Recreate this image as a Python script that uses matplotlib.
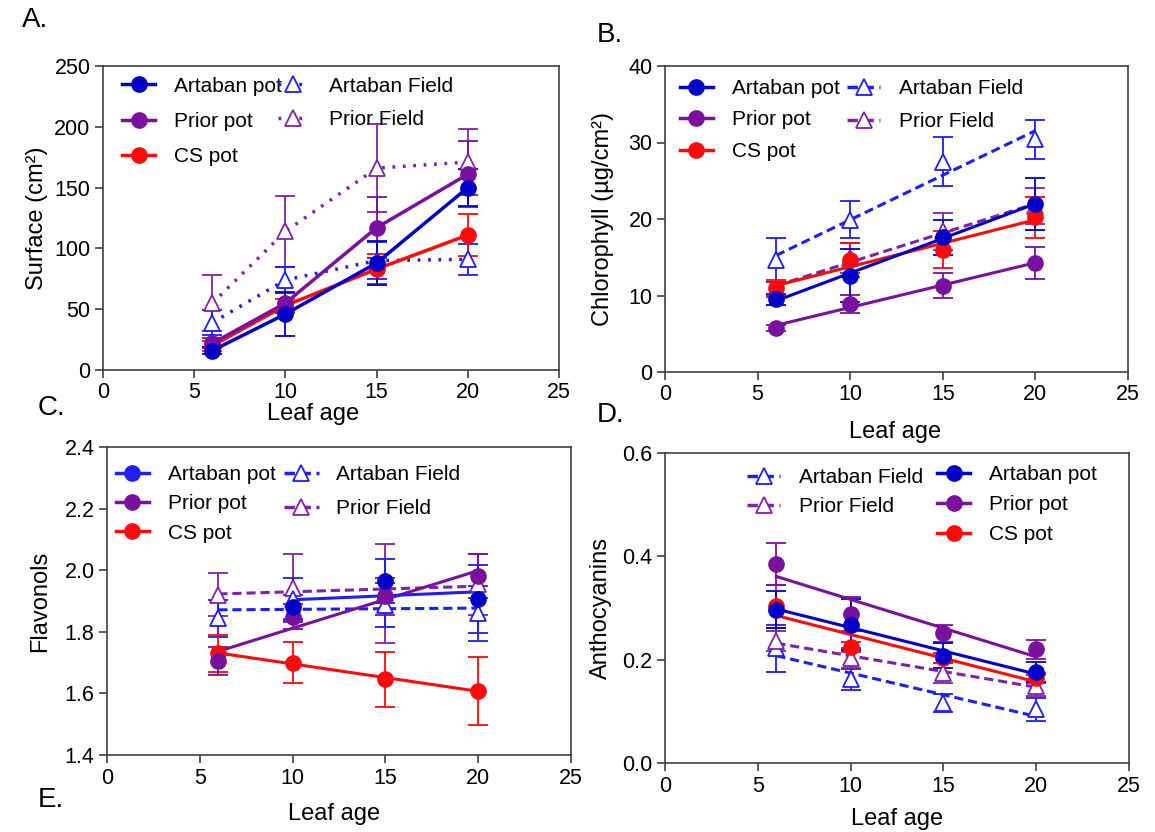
import numpy as np
import matplotlib
matplotlib.use("Agg")
import matplotlib.pyplot as plt
from matplotlib.lines import Line2D
from matplotlib.legend import Legend

plt.rcParams['font.family'] = ['Liberation Sans', 'DejaVu Sans']

# leaf age (x)
age = [6, 10, 15, 20]

# A. surface (cm2)
surf_art_pot = [16, 46, 88, 150]
surf_art_pot_err = [3, 18, 18, 15]
surf_pri_pot = [22, 55, 117, 161]
surf_pri_pot_err = [4, 8, 25, 27]
surf_cs_pot = [20, 53, 83, 111]
surf_cs_pot_err = [4, 5, 12, 17]
surf_art_field = [39, 74, 90, 91]
surf_art_field_err = [10, 11, 15, 13]
surf_pri_field = [55, 114, 166, 171]
surf_pri_field_err = [23, 29, 36, 27]

# B. chlorophyll (ug/cm2)
chl_art_pot = [9.5, 12.6, 17.6, 22.0]
chl_art_pot_err = [0.7, 3.5, 2.3, 3.4]
chl_pri_pot = [5.8, 8.9, 11.3, 14.2]
chl_pri_pot_err = [0.4, 1.2, 1.6, 2.1]
chl_cs_pot = [11.0, 14.6, 16.0, 20.2]
chl_cs_pot_err = [1.0, 2.2, 2.4, 2.7]
chl_art_field = [14.6, 19.9, 27.5, 30.4]
chl_art_field_err = [2.9, 2.4, 3.2, 2.6]
chl_pri_field = [10.8, 14.9, 18.4, 21.7]
chl_pri_field_err = [1.0, 2.0, 2.4, 2.4]

# C. flavonols
flav_art_pot = [np.nan, 1.88, 1.965, 1.906]
flav_art_pot_err = [np.nan, 0.04, 0.07, 0.11]
flav_pri_pot = [1.706, 1.849, 1.916, 1.981]
flav_pri_pot_err = [0.045, 0.04, 0.06, 0.07]
flav_cs_pot = [1.730, 1.700, 1.646, 1.609]
flav_cs_pot_err = [0.06, 0.066, 0.09, 0.11]
flav_art_field = [1.844, 1.905, 1.887, 1.860]
flav_art_field_err = [0.06, 0.07, 0.07, 0.09]
flav_pri_field = [1.920, 1.941, 1.925, 1.954]
flav_pri_field_err = [0.07, 0.11, 0.16, 0.10]

# D. anthocyanins
anth_art_pot = [0.297, 0.268, 0.208, 0.176]
anth_art_pot_err = [0.035, 0.05, 0.025, 0.02]
anth_pri_pot = [0.385, 0.288, 0.251, 0.220]
anth_pri_pot_err = [0.04, 0.033, 0.017, 0.019]
anth_cs_pot = [0.303, 0.224, 0.203, 0.164]
anth_cs_pot_err = [0.042, 0.01, 0.01, 0.01]
anth_art_field = [0.222, 0.162, 0.116, 0.104]
anth_art_field_err = [0.045, 0.02, 0.018, 0.022]
anth_pri_field = [0.236, 0.203, 0.174, 0.150]
anth_pri_field_err = [0.02, 0.02, 0.02, 0.02]

BLUE = '#0000C8'
BLUE_F = '#1E1EF5'
PURPLE = '#7A109E'
PURPLE_F = '#7F22AA'
RED = '#FF0A0A'
SPINE = '#404040'

fig = plt.figure(figsize=(11.55, 8.32), dpi=100)


def add_axes(px_left, px_top, px_right, px_bottom):
    W, H = 1155.0, 832.0
    return fig.add_axes([px_left / W, 1 - px_bottom / H,
                         (px_right - px_left) / W, (px_bottom - px_top) / H])


def style_axes(ax, ylim, yticks, yfmt, ylabel, ylab_x, xlab_x, xlab_y):
    ax.set_xlim(0, 25)
    ax.set_xticks([0, 5, 10, 15, 20, 25])
    ax.set_ylim(*ylim)
    ax.set_yticks(yticks)
    ax.set_yticklabels([yfmt.format(v) for v in yticks])
    for s in ax.spines.values():
        s.set_color(SPINE)
        s.set_linewidth(1.2)
    ax.tick_params(direction='out', length=6, width=1.2, color=SPINE,
                   labelsize=15.5, pad=3)
    ax.set_xlabel('Leaf age', fontsize=17)
    ax.set_ylabel(ylabel, fontsize=17)
    ax.yaxis.set_label_coords(ylab_x, 0.5)
    ax.xaxis.set_label_coords(xlab_x, xlab_y)


def errs(ax, y, e, color):
    ax.errorbar(age, y, yerr=e, fmt='none', ecolor=color, elinewidth=1.3,
                capsize=7, capthick=1.3, zorder=2)


def fit_line(ax, y, color, ls):
    x = np.array(age, dtype=float)
    y = np.array(y, dtype=float)
    ok = ~np.isnan(y)
    k, b = np.polyfit(x[ok], y[ok], 1)
    xs = np.array([x[ok].min(), x[ok].max()])
    ax.plot(xs, k * xs + b, color=color, lw=2.2, ls=ls, zorder=3)


def pot_points(ax, y, color):
    ax.plot(age, y, 'o', color=color, ms=11, zorder=4)


def field_points(ax, y, color):
    ax.plot(age, y, '^', mfc='white', mec=color, mew=1.3, ms=12,
            ls='none', zorder=4)


def pot_handle(color):
    return Line2D([], [], color=color, lw=2.5, marker='o', ms=11)


def field_handle(color, ls):
    return Line2D([], [], color=color, lw=2.5, ls=ls, marker='^', ms=11,
                  mfc='white', mew=1.3)


def legend(ax, handles, labels, anchor, spacing, hlen=1.6, tpad=0.9):
    lg = Legend(ax, handles, labels, loc='upper left', bbox_to_anchor=anchor,
                frameon=False, fontsize=15, handlelength=hlen,
                handletextpad=tpad, labelspacing=spacing, borderpad=0,
                borderaxespad=0, numpoints=1)
    ax.add_artist(lg)
    return lg


DOT = (0, (0.8, 2.2))
DASH = (0, (3, 1.6))

# ---------------- A ----------------
axA = add_axes(103, 66, 559, 370)
for y, e, c in [(surf_pri_field, surf_pri_field_err, PURPLE_F),
                (surf_art_field, surf_art_field_err, BLUE_F),
                (surf_cs_pot, surf_cs_pot_err, RED),
                (surf_pri_pot, surf_pri_pot_err, PURPLE),
                (surf_art_pot, surf_art_pot_err, BLUE)]:
    errs(axA, y, e, c)
axA.plot(age, surf_pri_field, color=PURPLE_F, lw=2.5, ls=DOT, zorder=3)
axA.plot(age, surf_art_field, color=BLUE_F, lw=2.5, ls=DOT, zorder=3)
field_points(axA, surf_pri_field, PURPLE_F)
field_points(axA, surf_art_field, BLUE_F)
axA.plot(age, surf_cs_pot, '-o', color=RED, lw=2.5, ms=11, zorder=4)
axA.plot(age, surf_pri_pot, '-o', color=PURPLE, lw=2.5, ms=11, zorder=4)
axA.plot(age, surf_art_pot, '-o', color=BLUE, lw=2.5, ms=11, zorder=4)
style_axes(axA, (0, 250), [0, 50, 100, 150, 200, 250], '{:.0f}',
           'Surface (cm²)', -0.12, 0.46, -0.108)
legend(axA, [pot_handle(BLUE), pot_handle(PURPLE), pot_handle(RED)],
       ['Artaban pot', 'Prior pot', 'CS pot'], (0.042, 0.965), 0.78)
legend(axA, [field_handle(BLUE_F, DOT), field_handle(PURPLE_F, DOT)],
       ['Artaban Field', 'Prior Field'], (0.384, 0.965), 0.68, 1.45, 1.0)

# ---------------- B ----------------
axB = add_axes(665, 66, 1128, 372)
for y, e, c in [(chl_art_field, chl_art_field_err, BLUE_F),
                (chl_pri_field, chl_pri_field_err, PURPLE_F),
                (chl_cs_pot, chl_cs_pot_err, RED),
                (chl_pri_pot, chl_pri_pot_err, PURPLE),
                (chl_art_pot, chl_art_pot_err, BLUE)]:
    errs(axB, y, e, c)
field_points(axB, chl_art_field, BLUE_F)
field_points(axB, chl_pri_field, PURPLE_F)
fit_line(axB, chl_art_field, BLUE_F, DASH)
fit_line(axB, chl_pri_field, PURPLE_F, DASH)
for y, c in [(chl_cs_pot, RED), (chl_pri_pot, PURPLE), (chl_art_pot, BLUE)]:
    pot_points(axB, y, c)
    fit_line(axB, y, c, '-')
style_axes(axB, (0, 40), [0, 10, 20, 30, 40], '{:.0f}',
           'Chlorophyll (µg/cm²)', -0.11, 0.497, -0.16)
legend(axB, [pot_handle(BLUE), pot_handle(PURPLE), pot_handle(RED)],
       ['Artaban pot', 'Prior pot', 'CS pot'], (0.032, 0.958), 0.6)
legend(axB, [field_handle(BLUE_F, DASH), field_handle(PURPLE_F, DASH)],
       ['Artaban Field', 'Prior Field'], (0.393, 0.958), 0.68, 1.6, 0.9)

# ---------------- C ----------------
axC = add_axes(107, 447, 571, 755)
for y, e, c in [(flav_pri_field, flav_pri_field_err, PURPLE_F),
                (flav_art_field, flav_art_field_err, BLUE_F),
                (flav_cs_pot, flav_cs_pot_err, RED),
                (flav_pri_pot, flav_pri_pot_err, PURPLE),
                (flav_art_pot, flav_art_pot_err, BLUE_F)]:
    errs(axC, y, e, c)
field_points(axC, flav_pri_field, PURPLE_F)
field_points(axC, flav_art_field, BLUE_F)
fit_line(axC, flav_pri_field, PURPLE_F, DASH)
fit_line(axC, flav_art_field, BLUE_F, DASH)
for y, c in [(flav_cs_pot, RED), (flav_pri_pot, PURPLE), (flav_art_pot, BLUE)]:
    pot_points(axC, y, c)
fit_line(axC, flav_cs_pot, RED, '-')
fit_line(axC, flav_pri_pot, PURPLE, '-')
fit_line(axC, flav_art_pot, BLUE_F, '-')
style_axes(axC, (1.4, 2.4), [1.4, 1.6, 1.8, 2.0, 2.2, 2.4], '{:.1f}',
           'Flavonols', -0.12, 0.49, -0.155)
legend(axC, [pot_handle(BLUE_F), pot_handle(PURPLE), pot_handle(RED)],
       ['Artaban pot', 'Prior pot', 'CS pot'], (0.019, 0.942), 0.5)
legend(axC, [field_handle(BLUE_F, DASH), field_handle(PURPLE_F, DASH)],
       ['Artaban Field', 'Prior Field'], (0.381, 0.942), 0.72, 1.7, 0.8)

# ---------------- D ----------------
axD = add_axes(665, 453, 1129, 763)
for y, e, c in [(anth_art_field, anth_art_field_err, BLUE_F),
                (anth_pri_field, anth_pri_field_err, PURPLE_F),
                (anth_cs_pot, anth_cs_pot_err, RED),
                (anth_pri_pot, anth_pri_pot_err, PURPLE),
                (anth_art_pot, anth_art_pot_err, BLUE)]:
    errs(axD, y, e, c)
field_points(axD, anth_art_field, BLUE_F)
field_points(axD, anth_pri_field, PURPLE_F)
fit_line(axD, anth_art_field, BLUE_F, DASH)
fit_line(axD, anth_pri_field, PURPLE_F, DASH)
for y, c in [(anth_cs_pot, RED), (anth_pri_pot, PURPLE), (anth_art_pot, BLUE)]:
    pot_points(axD, y, c)
    fit_line(axD, y, c, '-')
style_axes(axD, (0, 0.6), [0.0, 0.2, 0.4, 0.6], '{:.1f}',
           'Anthocyanins', -0.115, 0.5, -0.145)
legend(axD, [field_handle(BLUE_F, DASH), field_handle(PURPLE_F, DASH)],
       ['Artaban Field', 'Prior Field'], (0.177, 0.952), 0.5, 1.6, 0.9)
legend(axD, [pot_handle(BLUE), pot_handle(PURPLE), pot_handle(RED)],
       ['Artaban pot', 'Prior pot', 'CS pot'], (0.586, 0.96), 0.52)

# panel letters
for txt, x, y in [('A.', 22, 20), ('B.', 597, 35), ('C.', 38, 408),
                  ('D.', 597, 415), ('E.', 38, 800)]:
    fig.text(x / 1155, 1 - y / 832, txt, fontsize=20, ha='left', va='center')

fig.savefig('out.png', dpi=100)
